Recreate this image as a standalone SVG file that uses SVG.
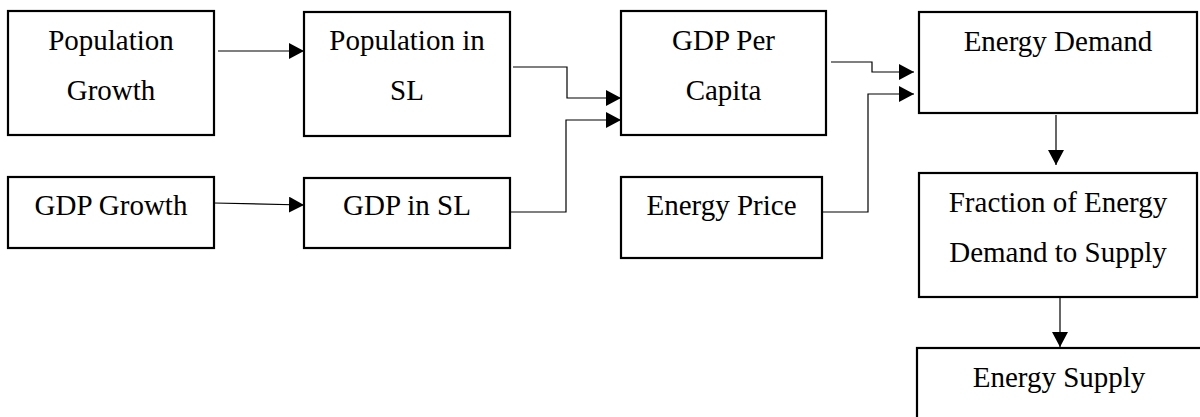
<svg xmlns="http://www.w3.org/2000/svg" width="1200" height="417" viewBox="0 0 1200 417">
  <style>
    .box { fill: #ffffff; stroke: #000000; stroke-width: 2.2; }
    .lbl { font-family: "Liberation Serif", "Times New Roman", serif; font-size: 29px; fill: #000000; text-anchor: middle; }
    .wire { fill: none; stroke: #000000; stroke-width: 1.2; }
  </style>
  <defs>
    <marker id="arrow" markerUnits="userSpaceOnUse" markerWidth="16" markerHeight="18" refX="15" refY="8" orient="auto">
      <path d="M0,0 L15,8 L0,16 Z" fill="#000000"/>
    </marker>
  </defs>
  <rect width="1200" height="417" fill="#ffffff"/>

  <g id="population-growth">
    <rect class="box" x="8" y="11" width="206" height="124"/>
    <text class="lbl" x="111" y="50">Population</text>
    <text class="lbl" x="111" y="100">Growth</text>
  </g>
  <g id="population-in-sl">
    <rect class="box" x="304" y="12" width="206" height="124"/>
    <text class="lbl" x="407" y="50">Population in</text>
    <text class="lbl" x="407" y="100">SL</text>
  </g>
  <g id="gdp-growth">
    <rect class="box" x="8" y="177" width="206" height="71"/>
    <text class="lbl" x="111" y="215">GDP Growth</text>
  </g>
  <g id="gdp-in-sl">
    <rect class="box" x="304" y="178" width="206" height="70"/>
    <text class="lbl" x="407" y="215">GDP in SL</text>
  </g>
  <g id="gdp-per-capita">
    <rect class="box" x="621" y="11" width="205" height="124"/>
    <text class="lbl" x="723.5" y="50">GDP Per</text>
    <text class="lbl" x="723.5" y="100">Capita</text>
  </g>
  <g id="energy-price">
    <rect class="box" x="621" y="177" width="201" height="81"/>
    <text class="lbl" x="721.5" y="215">Energy Price</text>
  </g>
  <g id="energy-demand">
    <rect class="box" x="919" y="12" width="278" height="101"/>
    <text class="lbl" x="1058" y="51">Energy Demand</text>
  </g>
  <g id="fraction-demand-supply">
    <rect class="box" x="919" y="173" width="278" height="124"/>
    <text class="lbl" x="1058" y="212">Fraction of Energy</text>
    <text class="lbl" x="1058" y="262">Demand to Supply</text>
  </g>
  <g id="energy-supply">
    <rect class="box" x="917" y="348" width="285" height="80"/>
    <text class="lbl" x="1059" y="387">Energy Supply</text>
  </g>

  <g id="connectors">
    <path class="wire" d="M218,51 L304,51" marker-end="url(#arrow)"/>
    <path class="wire" d="M214,203 L304,205" marker-end="url(#arrow)"/>
    <path class="wire" d="M513,67 L567,67 L567,98 L621,98" marker-end="url(#arrow)"/>
    <path class="wire" d="M510,212 L566,212 L566,120 L621,120" marker-end="url(#arrow)"/>
    <path class="wire" d="M831,62 L872,62 L872,72 L914,72" marker-end="url(#arrow)"/>
    <path class="wire" d="M823,212 L868,212 L868,94 L914,94" marker-end="url(#arrow)"/>
    <path class="wire" d="M1056,115 L1056,165" marker-end="url(#arrow)"/>
    <path class="wire" d="M1060,298 L1060,347" marker-end="url(#arrow)"/>
  </g>
</svg>
